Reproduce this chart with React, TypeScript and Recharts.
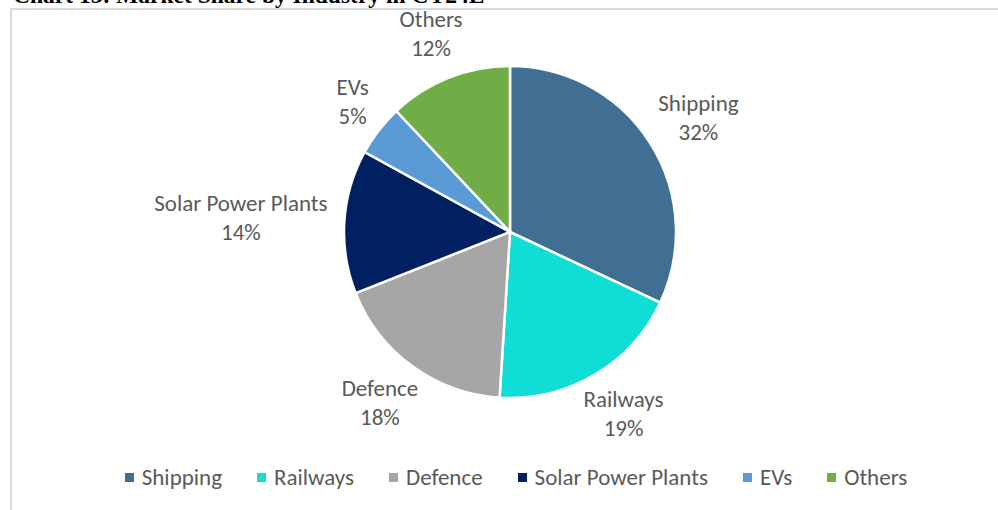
import React from "react";
import { PieChart, Pie, Cell, Legend } from "recharts";

const categories = ["Shipping", "Railways", "Defence", "Solar Power Plants", "EVs", "Others"];
const shares = [32, 19, 18, 14, 5, 12];
const colors = ["#416F94", "#10DDD5", "#A6A6A6", "#002060", "#5B9BD5", "#70AD47"];
const title = "Chart 13: Market Share by Industry in CY24E";

const data = categories.map((name, i) => ({ name, value: shares[i] }));

const FONT = "Carlito, Calibri, Lato, 'Noto Sans', sans-serif";
const LABEL_SIZE = 23;
const LINE = 29;
const TEXT = "#595959";

let ctx: CanvasRenderingContext2D | null = null;
function measure(s: string): number {
  if (!ctx) {
    const c = document.createElement("canvas");
    ctx = c.getContext("2d");
  }
  if (!ctx) return s.length * LABEL_SIZE * 0.5;
  ctx.font = `${LABEL_SIZE}px ${FONT}`;
  return ctx.measureText(s).width;
}

const RAD = Math.PI / 180;

const renderLabel = (props: any) => {
  const { cx, cy, midAngle, outerRadius, name, value } = props;
  const cos = Math.cos(-midAngle * RAD);
  const sin = Math.sin(-midAngle * RAD);
  const r = outerRadius + 17;
  const px = cx + r * cos;
  const py = cy + r * sin;
  const l2 = `${value}%`;
  const w = Math.max(measure(name), measure(l2));
  const h = LINE * 2;
  const bx = px + (cos * w) / 2;
  const by = py + (sin * h) / 2;
  return (
    <text
      x={bx}
      y={by}
      textAnchor="middle"
      fill={TEXT}
      style={{ fontFamily: FONT, fontSize: LABEL_SIZE }}
    >
      <tspan x={bx} dy={-LINE / 2 + 7}>{name}</tspan>
      <tspan x={bx} dy={LINE}>{l2}</tspan>
    </text>
  );
};

const LegendContent = () => (
  <div
    style={{
      display: "flex",
      justifyContent: "center",
      alignItems: "center",
      fontFamily: FONT,
      fontSize: LABEL_SIZE,
      color: TEXT,
      gap: 35,
      paddingLeft: 32,
    }}
  >
    {categories.map((c, i) => (
      <div key={c} style={{ display: "flex", alignItems: "center" }}>
        <span
          style={{
            display: "inline-block",
            width: 9,
            height: 9,
            background: colors[i],
            marginRight: 8,
          }}
        />
        <span>{c}</span>
      </div>
    ))}
  </div>
);

export default function App() {
  return (
    <div style={{ position: "absolute", left: 0, top: 0, width: 998, height: 510, overflow: "hidden", background: "#fff" }}>
      <div
        style={{
          position: "absolute",
          left: 10,
          top: 8,
          width: 1000,
          height: 520,
          borderLeft: "2px solid #D9D9D9",
          borderTop: "2px solid #D9D9D9",
        }}
      />
      <div
        style={{
          position: "absolute",
          left: 13,
          top: -16,
          fontFamily: "'Liberation Serif', 'Times New Roman', serif",
          fontWeight: "bold",
          fontSize: 23.5,
          lineHeight: "23.5px",
          whiteSpace: "nowrap",
          color: "#000",
        }}
      >
        {title}
      </div>
      <div style={{ position: "absolute", left: 0, top: 0 }}>
        <PieChart width={998} height={510} margin={{ top: 0, right: 0, bottom: 0, left: 0 }}>
          <Pie
            data={data}
            dataKey="value"
            nameKey="name"
            cx={510}
            cy={232}
            outerRadius={166}
            startAngle={90}
            endAngle={-270}
            stroke="#FFFFFF"
            strokeWidth={2.5}
            label={renderLabel}
            labelLine={false}
            isAnimationActive={false}
          >
            {data.map((d, i) => (
              <Cell key={d.name} fill={colors[i]} />
            ))}
          </Pie>
          <Legend
            content={<LegendContent />}
            verticalAlign="bottom"
            wrapperStyle={{ position: "absolute", top: 463, bottom: "auto", left: 0, width: 1000 }}
          />
        </PieChart>
      </div>
    </div>
  );
}
